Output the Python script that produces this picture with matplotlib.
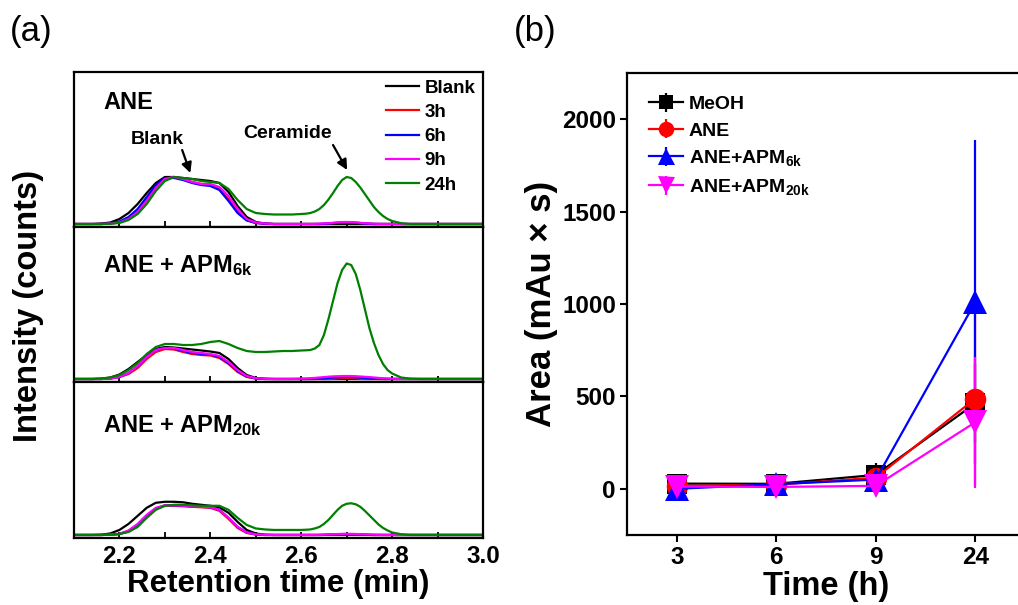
import matplotlib
matplotlib.use("Agg")
import matplotlib.pyplot as plt
from matplotlib.ticker import MultipleLocator

plt.rcParams['font.family'] = ['Liberation Sans', 'DejaVu Sans']
plt.rcParams['font.weight'] = 'bold'
plt.rcParams['mathtext.fontset'] = 'custom'
plt.rcParams['mathtext.rm'] = 'Liberation Sans:bold'
plt.rcParams['mathtext.bf'] = 'Liberation Sans:bold'
plt.rcParams['mathtext.it'] = 'Liberation Sans:bold'

# ---------------- Panel (a) data: chromatograms ----------------
rt = [2.10, 2.12, 2.14, 2.16, 2.18, 2.20, 2.22, 2.24, 2.26, 2.28,
      2.30, 2.32, 2.34, 2.36, 2.38, 2.40, 2.42, 2.44, 2.46, 2.48,
      2.50, 2.52, 2.54, 2.56, 2.58, 2.60,
      2.61, 2.62, 2.63, 2.64, 2.65, 2.66, 2.67, 2.68, 2.69, 2.70,
      2.71, 2.72, 2.73, 2.74, 2.75, 2.76, 2.77, 2.78, 2.79, 2.80,
      2.82, 2.84, 2.86, 2.88, 2.90, 2.92, 2.94, 2.96, 2.98, 3.00]

trace_labels = ["Blank", "3h", "6h", "9h", "24h"]
trace_colors = ["#000000", "#FF0000", "#0000FF", "#FF00FF", "#008000"]

# ANE
ane_blank = [0, 0, 0, 0.5, 1.5, 5, 11, 20, 31, 41,
             47, 47, 46, 45, 44, 43, 41, 32, 18, 7,
             2, 0.5, 0, 0, 0, 0,
             0, 0, 0, 0, 0, 0, 0, 0, 0, 0,
             0, 0, 0, 0, 0, 0, 0, 0, 0, 0,
             0, 0, 0, 0, 0, 0, 0, 0, 0, 0]
ane_3h = [0, 0, 0, 0, 0.5, 2, 6, 13, 24, 37,
          45, 47, 45, 42, 40, 39, 35, 25, 12, 4,
          1, 0.3, 0, 0, 0, 0,
          0, 0, 0, 0, 0.2, 0.5, 0.9, 1.2, 1.4, 1.5,
          1.4, 1.2, 0.9, 0.5, 0.2, 0, 0, 0, 0, 0,
          0, 0, 0, 0, 0, 0, 0, 0, 0, 0]
ane_6h = [0, 0, 0, 0, 0.5, 2.5, 7, 15, 27, 39,
          46, 46, 44, 41, 39, 38, 34, 23, 11, 3.5,
          1, 0.3, 0, 0, 0, 0,
          0, 0, 0, 0, 0.2, 0.5, 0.9, 1.2, 1.4, 1.5,
          1.4, 1.2, 0.9, 0.5, 0.2, 0, 0, 0, 0, 0,
          0, 0, 0, 0, 0, 0, 0, 0, 0, 0]
ane_9h = [0, 0, 0, 0, 0.3, 1.5, 5, 12, 23, 36,
          45, 47, 45, 42, 40, 40, 37, 28, 15, 5,
          1.5, 0.5, 0, 0, 0, 0,
          0, 0, 0.1, 0.3, 0.5, 0.8, 1.2, 1.6, 1.9, 2,
          1.9, 1.6, 1.2, 0.8, 0.5, 0.3, 0.1, 0, 0, 0,
          0, 0, 0, 0, 0, 0, 0, 0, 0, 0]
ane_24h = [0, 0, 0, 0, 0.3, 1, 4, 10, 20, 33,
           43, 47, 46, 45, 43, 42, 41, 35, 24, 15,
           11, 10, 9.5, 9.5, 9.5, 10,
           10.3, 11, 12.5, 15, 19, 24.5, 31, 38, 44, 47,
           46, 42, 36.5, 30, 23.5, 17, 12, 8, 5, 3,
           0.8, 0, 0, 0, 0, 0, 0, 0, 0, 0]

# ANE + APM6k
apm6_blank = [0, 0, 0, 0.3, 1.5, 4.5, 10, 17, 24, 30,
              32, 31.5, 30.5, 29.5, 28.5, 27.5, 26, 20, 11, 4,
              1, 0.3, 0, 0, 0, 0,
              0, 0, 0, 0, 0, 0, 0, 0, 0, 0,
              0, 0, 0, 0, 0, 0, 0, 0, 0, 0,
              0, 0, 0, 0, 0, 0, 0, 0, 0, 0]
apm6_3h = [0, 0, 0, 0, 0.5, 2, 5, 11, 20, 27,
           30, 29.5, 27, 25, 24, 23.5, 21, 15, 7, 2,
           0.5, 0, 0, 0, 0, 0,
           0, 0, 0, 0, 0, 0, 0.2, 0.5, 0.8, 1,
           0.8, 0.5, 0.2, 0, 0, 0, 0, 0, 0, 0,
           0, 0, 0, 0, 0, 0, 0, 0, 0, 0]
apm6_6h = [0, 0, 0, 0, 0.5, 2, 6, 13, 22, 29,
           31, 30.5, 28, 26, 25, 24.5, 22, 16, 8, 2.5,
           0.5, 0, 0, 0, 0, 0,
           0, 0, 0.1, 0.3, 0.6, 1, 1.4, 1.7, 1.9, 2,
           1.9, 1.7, 1.4, 1, 0.6, 0.3, 0.1, 0, 0, 0,
           0, 0, 0, 0, 0, 0, 0, 0, 0, 0]
apm6_9h = [0, 0, 0, 0, 0.5, 2, 6, 13, 22, 29,
           31, 31, 29, 27, 26, 25, 23, 17, 9, 3,
           0.8, 0.2, 0, 0, 0, 0.3,
           0.5, 0.8, 1.1, 1.5, 1.9, 2.3, 2.6, 2.8, 2.95, 3,
           2.95, 2.8, 2.5, 2.2, 1.9, 1.5, 1.1, 0.8, 0.5, 0.3,
           0, 0, 0, 0, 0, 0, 0, 0, 0, 0]
apm6_24h = [0, 0, 0, 0.5, 1.5, 4, 9, 16, 25, 32,
            35, 35, 34, 34, 35, 37, 38, 35, 31, 28,
            27, 27, 27.5, 28, 28, 28.5,
            28.7, 29, 30.5, 34, 44, 60, 78, 96, 109, 115.5,
            114, 105, 89, 70, 51, 36, 24, 15, 9, 5.5,
            1.5, 0.3, 0, 0, 0, 0, 0, 0, 0, 0]

# ANE + APM20k
apm20_blank = [0, 0, 0, 0.3, 1.5, 5, 11, 19, 27, 32,
               33, 33, 32.5, 31, 30, 29, 27.5, 22, 13, 5,
               1.5, 0.3, 0, 0, 0, 0,
               0, 0, 0, 0, 0, 0, 0, 0, 0, 0,
               0, 0, 0, 0, 0, 0, 0, 0, 0, 0,
               0, 0, 0, 0, 0, 0, 0, 0, 0, 0]
apm20_3h = [0, 0, 0, 0, 0.3, 1, 4, 10, 19, 26,
            29, 29, 28.5, 28, 27.5, 27, 24, 16, 7, 2,
            0.5, 0, 0, 0, 0, 0,
            0, 0, 0, 0, 0.1, 0.3, 0.45, 0.6, 0.75, 0.8,
            0.75, 0.6, 0.45, 0.3, 0.1, 0, 0, 0, 0, 0,
            0, 0, 0, 0, 0, 0, 0, 0, 0, 0]
apm20_6h = [0, 0, 0, 0, 0.3, 1, 3.5, 9, 18, 26,
            29.5, 29.5, 29, 28.5, 28, 27.5, 25, 17, 8, 2.5,
            0.5, 0, 0, 0, 0, 0,
            0, 0, 0, 0, 0.1, 0.3, 0.45, 0.6, 0.75, 0.8,
            0.75, 0.6, 0.45, 0.3, 0.1, 0, 0, 0, 0, 0,
            0, 0, 0, 0, 0, 0, 0, 0, 0, 0]
apm20_9h = [0, 0, 0, 0, 0.3, 1.2, 4.5, 11, 20, 27,
            29.5, 29.5, 29, 28.5, 28, 27.5, 25, 17, 8, 2.5,
            0.6, 0.2, 0, 0, 0, 0,
            0, 0, 0, 0.15, 0.3, 0.5, 0.7, 0.9, 1.1, 1.2,
            1.1, 1, 0.8, 0.6, 0.45, 0.3, 0.15, 0, 0, 0,
            0, 0, 0, 0, 0, 0, 0, 0, 0, 0]
apm20_24h = [0, 0, 0, 0, 0.3, 1, 3, 8, 17, 25,
             29, 30, 30, 29.5, 29, 29, 29, 25, 17, 10,
             6.5, 5.5, 5, 5, 5, 5,
             5.2, 5.5, 6.5, 8, 11, 15, 20, 25, 29, 31,
             31.5, 30.5, 28, 24, 19.5, 15, 10.5, 7, 4.5, 2.5,
             0.7, 0, 0, 0, 0, 0, 0, 0, 0, 0]

panel_titles = ["ANE", r"ANE + APM$_{\mathbf{6k}}$", r"ANE + APM$_{\mathbf{20k}}$"]
panel_traces = [
    [ane_blank, ane_3h, ane_6h, ane_9h, ane_24h],
    [apm6_blank, apm6_3h, apm6_6h, apm6_9h, apm6_24h],
    [apm20_blank, apm20_3h, apm20_6h, apm20_9h, apm20_24h],
]
rt_ticks = [2.2, 2.4, 2.6, 2.8, 3.0]

# ---------------- Panel (b) data: peak areas ----------------
time_labels = ["3", "6", "9", "24"]
series_names = ["MeOH", "ANE", r"ANE+APM$_{\mathbf{6k}}$", r"ANE+APM$_{\mathbf{20k}}$"]
meoh = [28, 27, 75, 462]
meoh_err = [15, 15, 65, 215]
ane = [15, 22, 60, 488]
ane_err = [10, 12, 30, 470]
apm6k = [0, 25, 50, 1010]
apm6k_err = [40, 50, 40, 875]
apm20k = [12, 10, 16, 360]
apm20k_err = [20, 20, 20, 355]
area_ticks = [0, 500, 1000, 1500, 2000]

series_vals = [meoh, ane, apm6k, apm20k]
series_errs = [meoh_err, ane_err, apm6k_err, apm20k_err]
series_colors = ["#000000", "#FF0000", "#0000FF", "#FF00FF"]
series_markers = ["s", "o", "^", "v"]
series_ms = [14, 15.5, 17, 17]

# ---------------- Figure ----------------
W, H = 1018, 605
fig = plt.figure(figsize=(W / 100, H / 100), dpi=100)

def fx(px):
    return px / W

def fy(py):
    return 1 - py / H

# panel (a) geometry
a_left, a_right = 74, 483
a_edges = [72, 227, 382, 538]
axes_a = []
for i in range(3):
    top, bot = a_edges[i], a_edges[i + 1]
    ax = fig.add_axes([fx(a_left), fy(bot), fx(a_right - a_left), (bot - top) / H])
    axes_a.append(ax)
    for vals, lab, col in zip(panel_traces[i], trace_labels, trace_colors):
        ax.plot(rt, vals, color=col, lw=1.6, label=lab, solid_joinstyle='round')
    ax.set_xlim(2.1, 3.0)
    ax.set_ylim(-3, 152)
    ax.set_yticks([])
    ax.xaxis.set_major_locator(MultipleLocator(0.2))
    ax.xaxis.set_minor_locator(MultipleLocator(0.1))
    ax.tick_params(axis='x', which='both', direction='in', length=4, width=1.3,
                   top=False, pad=5, labelsize=17.5)
    for s in ax.spines.values():
        s.set_linewidth(1.6)
    ax.text(0.071, [0.761, 0.71, 0.677][i], panel_titles[i], transform=ax.transAxes,
            fontsize=17, fontweight='bold', ha='left', va='baseline')
    if i < 2:
        ax.tick_params(axis='x', labelbottom=False)
    else:
        ax.set_xticks(rt_ticks)
        ax.set_xticklabels([f"{v:.1f}" for v in rt_ticks])
        for lbl in ax.get_xticklabels():
            lbl.set_fontweight('bold')
        ax.set_xlabel("Retention time (min)", fontsize=22.5, fontweight='bold', labelpad=1)

ax0 = axes_a[0]
leg_a = ax0.legend(loc='upper right', bbox_to_anchor=(1.0, 1.0), frameon=False,
                   fontsize=13.5, handlelength=1.75, handletextpad=0.3,
                   labelspacing=0.38, borderaxespad=0.1, borderpad=0.3)
for t in leg_a.get_texts():
    t.set_fontweight('bold')

ax0.text(2.2835, 84, "Blank", fontsize=14, fontweight='bold', ha='center', va='center')
ax0.annotate("", xy=(2.356, 51), xytext=(2.338, 74),
             arrowprops=dict(arrowstyle='-|>', color='k', lw=1.6, mutation_scale=15,
                             shrinkA=0, shrinkB=0))
ax0.text(2.571, 91, "Ceramide", fontsize=14, fontweight='bold', ha='center', va='center')
ax0.annotate("", xy=(2.701, 54), xytext=(2.670, 79),
             arrowprops=dict(arrowstyle='-|>', color='k', lw=1.6, mutation_scale=15,
                             shrinkA=0, shrinkB=0))

fig.text(fx(29), fy(306), "Intensity (counts)", rotation=90, fontsize=23.5,
         fontweight='bold', ha='center', va='center')
fig.text(fx(10), fy(31), "(a)", fontsize=25, fontweight='normal', ha='left', va='center')

# panel (b)
b_left, b_right, b_top, b_bot = 627, 1025, 73, 535
axb = fig.add_axes([fx(b_left), fy(b_bot), fx(b_right - b_left), (b_bot - b_top) / H])
xpos = list(range(len(time_labels)))
for vals, errs, name, col, mk, ms in zip(series_vals, series_errs, series_names,
                                        series_colors, series_markers, series_ms):
    axb.errorbar(xpos, vals, yerr=errs, color=col, ecolor=col, marker=mk, ms=ms,
                 lw=1.6, elinewidth=1.6, capsize=3, capthick=1.6, label=name,
                 markeredgewidth=0)
axb.set_xlim(-0.5, 3.5)
axb.set_ylim(-250, 2250)
axb.set_xticks(xpos)
axb.set_xticklabels(time_labels)
axb.set_yticks(area_ticks)
axb.tick_params(axis='both', which='major', direction='out', length=5, width=1.5,
                labelsize=17.5, pad=3)
for lbl in axb.get_xticklabels() + axb.get_yticklabels():
    lbl.set_fontweight('bold')
for s in axb.spines.values():
    s.set_linewidth(1.6)
axb.set_xlabel("Time (h)", fontsize=23.5, fontweight='bold', labelpad=1)
axb.set_ylabel("Area (mAu × s)", fontsize=25, fontweight='bold', labelpad=2.5)
leg_b = axb.legend(loc='upper left', bbox_to_anchor=(0.035, 0.968), frameon=False,
                   fontsize=14, handlelength=1.75, handletextpad=0.3, labelspacing=0.45,
                   markerscale=0.72, borderaxespad=0.1, borderpad=0.3)
for t in leg_b.get_texts():
    t.set_fontweight('bold')

fig.text(fx(514), fy(31), "(b)", fontsize=25, fontweight='normal', ha='left', va='center')

fig.savefig("out.png", dpi=100)
